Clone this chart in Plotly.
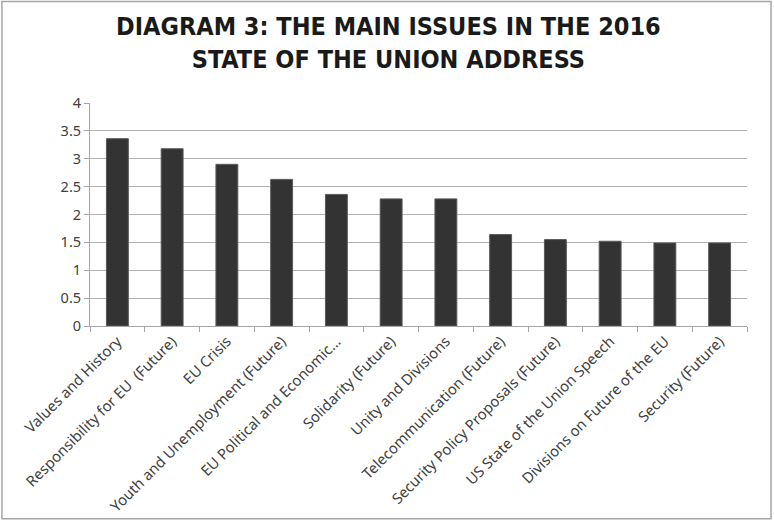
import plotly.graph_objects as go

categories = [
    "Values and History",
    "Responsibility for EU  (Future)",
    "EU Crisis",
    "Youth and Unemployment (Future)",
    "EU Political and Economic...",
    "Solidarity (Future)",
    "Unity and Divisions",
    "Telecommunication (Future)",
    "Security Policy Proposals (Future)",
    "US State of the Union Speech",
    "Divisions on Future of the EU",
    "Security (Future)",
]
values = [3.36, 3.18, 2.90, 2.63, 2.36, 2.28, 2.28, 1.64, 1.55, 1.52, 1.49, 1.49]
y_ticks = [0, 0.5, 1, 1.5, 2, 2.5, 3, 3.5, 4]
y_tick_labels = ["0", "0.5", "1", "1.5", "2", "2.5", "3", "3.5", "4"]
title_text = "DIAGRAM 3: THE MAIN ISSUES IN THE 2016<br>STATE OF THE UNION ADDRESS"

fig = go.Figure(
    go.Bar(
        x=categories,
        y=values,
        marker=dict(color="#333333", line=dict(color="#5a5a5a", width=1)),
        width=0.4,
    )
)

fig.update_layout(
    width=774,
    height=521,
    paper_bgcolor="white",
    plot_bgcolor="white",
    margin=dict(l=90, r=27, t=103, b=195),
    showlegend=False,
    font=dict(family="Noto Sans, sans-serif", color="#404040"),
    annotations=[
        dict(
            text=title_text,
            xref="paper",
            yref="paper",
            x=0.455,
            y=1.27,
            xanchor="center",
            yanchor="middle",
            showarrow=False,
            align="center",
            font=dict(family="DejaVu Sans Condensed, Roboto, sans-serif", size=25, color="#1a1a1a", weight="bold"),
        )
    ],
    shapes=[
        dict(
            type="rect",
            xref="paper",
            yref="paper",
            x0=-0.134,
            x1=1.0365,
            y0=-0.864,
            y1=1.455,
            line=dict(color="#a6a6a6", width=1.5),
            layer="below",
        )
    ],
)

fig.update_xaxes(
    automargin=False,
    tickangle=-45,
    tickfont=dict(size=14.8, color="#404040"),
    showline=True,
    linecolor="#a6a6a6",
    ticks="outside",
    tickson="boundaries",
    ticklen=5,
    tickcolor="#a6a6a6",
    showgrid=False,
)
fig.update_yaxes(
    automargin=False,
    range=[0, 4],
    tickvals=y_ticks,
    ticktext=y_tick_labels,
    tickfont=dict(size=14.5, color="#404040"),
    showline=True,
    linecolor="#a6a6a6",
    showgrid=True,
    gridcolor="#b3b3b3",
    gridwidth=1,
    ticks="outside",
    ticklen=5,
    tickcolor="#a6a6a6",
    zeroline=False,
)

fig.write_html(
    "out.html",
    config={"displayModeBar": False},
    post_script="document.body.style.margin='0';",
)
